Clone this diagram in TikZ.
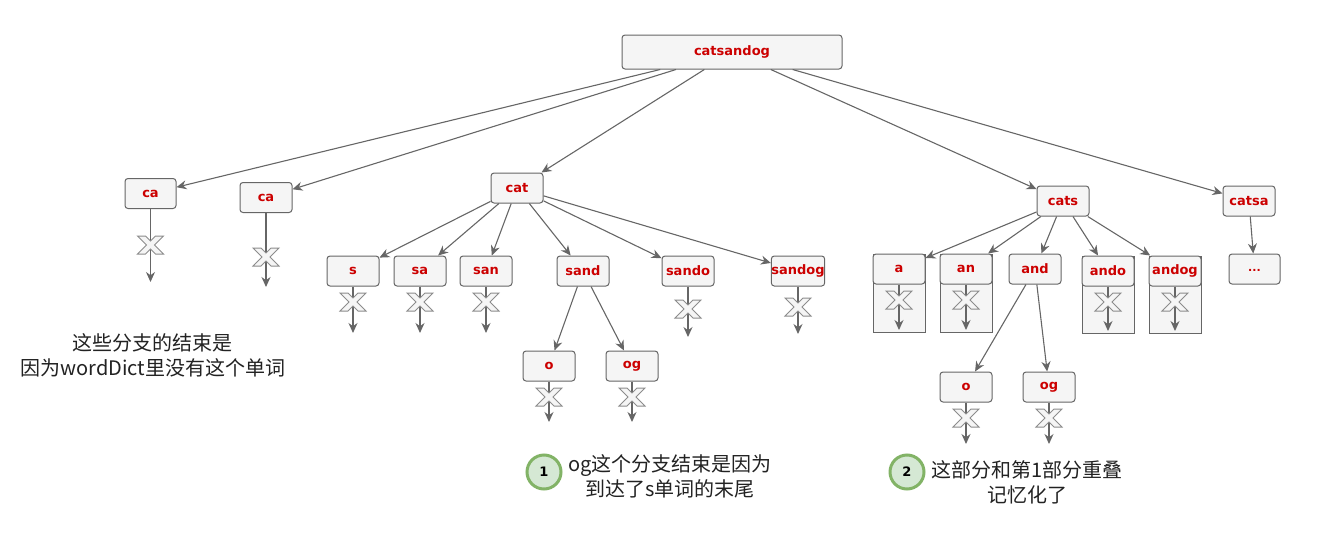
\documentclass[tikz,border=0pt]{standalone}
\usepackage{fontspec}
\setmainfont{DejaVu Sans}
\newfontfamily\cjk{Noto Sans CJK SC}
\usetikzlibrary{arrows.meta}
\definecolor{edgegray}{HTML}{666666}
\definecolor{boxfill}{HTML}{F5F5F5}
\definecolor{lblred}{HTML}{CC0000}
\definecolor{xgray}{HTML}{8C8C8C}
\definecolor{noteline}{HTML}{82B366}
\definecolor{notefill}{HTML}{D5E8D4}
\definecolor{txt}{HTML}{222222}
\tikzset{
  wbox/.style={draw=edgegray, fill=boxfill, rounded corners=3pt, minimum width=52pt,
    minimum height=30pt, inner sep=0pt, text=lblred, line width=1pt,
    font=\fontsize{13}{15}\selectfont\bfseries},
  edge/.style={draw=edgegray, line width=1.1pt, -{Stealth[length=10pt,width=9pt]}},
  cont/.style={draw=edgegray, fill=boxfill, line width=1pt},
  note/.style={circle, draw=noteline, fill=notefill, line width=3pt, minimum size=34pt,
    inner sep=0pt, font=\fontsize{13}{15}\selectfont\bfseries},
  cn/.style={font=\cjk\fontsize{20}{25}\selectfont, text=txt, align=center, inner sep=0pt},
  xmark/.pic={\draw[draw=xgray, fill=boxfill, line width=1pt, line join=miter]
    (-13,-9) -- (-5,-9) -- (0,-4) -- (5,-9) -- (13,-9) -- (4,0) -- (13,9) -- (5,9)
    -- (0,4) -- (-5,9) -- (-13,9) -- (-4,0) -- cycle;}
}
\begin{document}
\begin{tikzpicture}[x=1pt,y=-1pt]
\useasboundingbox (0,0) rectangle (1326,541);
% containers
\draw[cont] (873,254) rectangle (925,332);
\draw[cont] (940,254) rectangle (992,332);
\draw[cont] (1082,256) rectangle (1134,333);
\draw[cont] (1149,256) rectangle (1201,333);
% nodes
\node[wbox, minimum width=220pt, minimum height=34pt] (root) at (732,52) {catsandog};
\node[wbox, minimum width=51pt] (ca1) at (150.5,193.5) {ca};
\node[wbox] (ca2) at (266,197.5) {ca};
\node[wbox] (cat) at (517,188) {cat};
\node[wbox] (cats) at (1063,201) {cats};
\node[wbox] (catsa) at (1249,201) {catsa};
\node[wbox] (s) at (353,271) {s};
\node[wbox] (sa) at (420,271) {sa};
\node[wbox] (san) at (486,271) {san};
\node[wbox] (sand) at (583,271) {sand};
\node[wbox] (sando) at (688,271) {sando};
\node[wbox] (sandog) at (798,271) {sandog};
\node[wbox] (o) at (549,366) {o};
\node[wbox] (og) at (632,366) {og};
\node[wbox] (a) at (899,269) {a};
\node[wbox] (an) at (966,269) {an};
\node[wbox] (and) at (1035,269) {and};
\node[wbox] (ando) at (1108,271) {ando};
\node[wbox] (andog) at (1175,271) {andog};
\node[wbox, minimum width=51pt, font=\fontsize{11}{13}\selectfont\bfseries] (dots) at (1254.5,269) {\raisebox{-5pt}{...}};
\node[wbox] (o2) at (966,387) {o};
\node[wbox] (og2) at (1049,387) {og};
% tree edges
\foreach \t in {ca1,ca2,cat,cats,catsa} \draw[edge] (root) -- (\t);
\foreach \t in {s,sa,san,sand,sando,sandog} \draw[edge] (cat) -- (\t);
\foreach \t in {o,og} \draw[edge] (sand) -- (\t);
\foreach \t in {a,an,and,ando,andog} \draw[edge] (cats) -- (\t);
\foreach \t in {o2,og2} \draw[edge] (and) -- (\t);
\draw[edge] (catsa) -- (dots);
% dead ends
\foreach \n/\x/\xm/\e in {ca1/150.5/245/282, ca2/266/257/287, s/353/302/333, sa/420/302/333,
  san/486/302/333, sando/688/309/337, sandog/798/307/334, o/549/397/422, og/632/397/422,
  a/899/300/330, an/966/300/330, ando/1108/302/331, andog/1175/302/331,
  o2/966/418/444, og2/1049/418/444}{
  \coordinate (\n e) at (\x,\e);
  \draw[edge] (\n) -- (\n e);
  \pic at (\x,\xm) {xmark};
}
% notes
\node[cn] (t0) at (153,355) {这些分支的结束是\\因为wordDict里没有这个单词};
\node[note] (n1) at (544,472) {1};
\node[cn] (t1) at (670,476) {og这个分支结束是因为\\到达了s单词的末尾};
\node[note] (n2) at (907,472) {2};
\node[cn] (t2) at (1027,482) {这部分和第1部分重叠\\记忆化了};
\end{tikzpicture}
\end{document}
